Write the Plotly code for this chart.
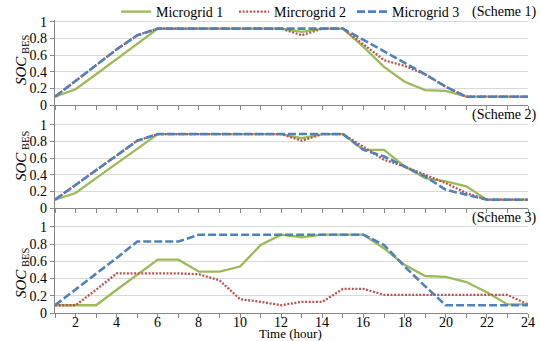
import plotly.graph_objects as go

hours = list(range(1, 25))
x_tick_vals = [h for h in hours if h % 2 == 0]
x_tick_labels = [str(h) for h in x_tick_vals]
y_tick_vals = [0, 0.2, 0.4, 0.6, 0.8, 1]
y_tick_labels = ["0", "0.2", "0.4", "0.6", "0.8", "1"]

series_names = ["Microgrid 1", "Mircrogrid 2", "Microgrid 3"]
scheme_labels = ["(Scheme 1)", "(Scheme 2)", "(Scheme 3)"]

# Scheme 1
mg1_s1 = [0.10, 0.19, 0.37, 0.55, 0.74, 0.92, 0.92, 0.92, 0.92, 0.92, 0.92, 0.92,
          0.88, 0.92, 0.92, 0.70, 0.46, 0.28, 0.18, 0.17, 0.10, 0.10, 0.10, 0.10]
mg2_s1 = [0.10, 0.29, 0.48, 0.67, 0.84, 0.92, 0.92, 0.92, 0.92, 0.92, 0.92, 0.92,
          0.84, 0.92, 0.92, 0.73, 0.54, 0.47, 0.37, 0.22, 0.10, 0.10, 0.10, 0.10]
mg3_s1 = [0.10, 0.29, 0.48, 0.67, 0.84, 0.92, 0.92, 0.92, 0.92, 0.92, 0.92, 0.92,
          0.92, 0.92, 0.92, 0.785, 0.65, 0.51, 0.37, 0.22, 0.10, 0.10, 0.10, 0.10]
# Scheme 2
mg1_s2 = [0.10, 0.18, 0.36, 0.54, 0.72, 0.89, 0.89, 0.89, 0.89, 0.89, 0.89, 0.89,
          0.84, 0.89, 0.89, 0.70, 0.70, 0.50, 0.36, 0.32, 0.26, 0.10, 0.10, 0.10]
mg2_s2 = [0.10, 0.28, 0.46, 0.64, 0.81, 0.89, 0.89, 0.89, 0.89, 0.89, 0.89, 0.89,
          0.81, 0.89, 0.89, 0.74, 0.58, 0.50, 0.40, 0.30, 0.18, 0.10, 0.10, 0.10]
mg3_s2 = [0.10, 0.28, 0.46, 0.64, 0.81, 0.89, 0.89, 0.89, 0.89, 0.89, 0.89, 0.89,
          0.89, 0.89, 0.89, 0.70, 0.62, 0.50, 0.38, 0.22, 0.16, 0.10, 0.10, 0.10]
# Scheme 3
mg1_s3 = [0.09, 0.09, 0.09, 0.27, 0.44, 0.62, 0.62, 0.48, 0.48, 0.54, 0.79, 0.91,
          0.88, 0.91, 0.91, 0.91, 0.75, 0.56, 0.43, 0.42, 0.36, 0.24, 0.10, 0.10]
mg2_s3 = [0.09, 0.09, 0.27, 0.46, 0.46, 0.46, 0.46, 0.45, 0.38, 0.16, 0.13, 0.09,
          0.13, 0.13, 0.28, 0.28, 0.21, 0.21, 0.21, 0.21, 0.21, 0.21, 0.21, 0.10]
mg3_s3 = [0.09, 0.27, 0.45, 0.64, 0.83, 0.83, 0.83, 0.91, 0.91, 0.91, 0.91, 0.91,
          0.91, 0.91, 0.91, 0.91, 0.79, 0.54, 0.31, 0.09, 0.09, 0.09, 0.09, 0.09]

schemes = [(mg1_s1, mg2_s1, mg3_s1), (mg1_s2, mg2_s2, mg3_s2), (mg1_s3, mg2_s3, mg3_s3)]

colors = ["#9BBB59", "#C0504D", "#4F81BD"]
dashes = ["solid", "2px,1.6px", "8px,3px"]
widths = [2.3, 2.3, 2.6]

FONT = "Liberation Serif, Times New Roman, serif"
W, H = 540, 341
ML, MR, MT, MB = 55, 12, 20, 28
PW, PH = W - ML - MR, H - MT - MB

# panel pixel extents (top, bottom) and y range tops
panel_px = [(20, 105), (105, 208), (208, 313)]
y_tops = [1.024, 1.24, 1.22]

def py(p):
    return (H - MB - p) / PH

def px(p):
    return (p - ML) / PW

fig = go.Figure()
for i, data in enumerate(schemes):
    ax = "" if i == 0 else str(i + 1)
    for j, vals in enumerate(data):
        fig.add_trace(go.Scatter(
            x=hours, y=vals, mode="lines", name=series_names[j],
            legendgroup=series_names[j], showlegend=(i == 0),
            line=dict(color=colors[j], width=widths[j], dash=dashes[j]),
            xaxis="x" + ax, yaxis="y" + ax,
        ))

axis_color = "#868686"
for i in range(3):
    ax = "" if i == 0 else str(i + 1)
    top, bot = panel_px[i]
    fig.layout["xaxis" + ax] = dict(
        domain=[0, 1], anchor="y" + ax, range=[1, 24],
        showline=True, linecolor=axis_color, linewidth=1.3,
        ticks="outside", ticklen=4, tickcolor=axis_color, tickwidth=1,
        tickmode="linear", tick0=1, dtick=1,
        showticklabels=False, showgrid=False, zeroline=False,
    )
    fig.layout["yaxis" + ax] = dict(
        domain=[py(bot), py(top)], anchor="x" + ax, range=[0, y_tops[i]],
        showline=True, linecolor=axis_color, linewidth=1.3,
        ticks="outside", ticklen=4, tickcolor=axis_color, tickwidth=1,
        tickvals=y_tick_vals, ticktext=y_tick_labels,
        showgrid=True, gridcolor="#D9D9D9", gridwidth=1, zeroline=False,
        tickfont=dict(family=FONT, size=14, color="#000"),
    )

annotations = []
# x tick labels on the bottom axis, placed at their data positions
for v, lab in zip(x_tick_vals, x_tick_labels):
    annotations.append(dict(
        xref="x3", yref="paper", x=v, y=py(322), text=lab, showarrow=False,
        xanchor="center", yanchor="middle", borderpad=0,
        font=dict(family=FONT, size=14, color="#000"),
    ))
title_centers = [60, 156, 273]
scheme_y = [12, 115, 218]
for i in range(3):
    annotations.append(dict(
        xref="paper", yref="paper", x=px(22), y=py(title_centers[i]),
        text="<i>SOC</i><sub> BES</sub>", textangle=-90, showarrow=False,
        xanchor="center", yanchor="middle",
        font=dict(family=FONT, size=15, color="#000"),
    ))
    annotations.append(dict(
        xref="paper", yref="paper", x=px(538), y=py(scheme_y[i]),
        text=scheme_labels[i], showarrow=False, xanchor="right", yanchor="middle",
        font=dict(family=FONT, size=14, color="#000"),
    ))
annotations.append(dict(
    xref="paper", yref="paper", x=px(290), y=py(333.5),
    text="Time (hour)", showarrow=False, xanchor="center", yanchor="middle",
    borderpad=0, font=dict(family=FONT, size=13, color="#000"),
))

fig.update_layout(
    width=W, height=H,
    margin=dict(l=ML, r=MR, t=MT, b=MB, autoexpand=False),
    paper_bgcolor="white", plot_bgcolor="white",
    font=dict(family=FONT, size=14, color="#000"),
    showlegend=True,
    legend=dict(orientation="h", x=px(116), y=py(12), xanchor="left", yanchor="middle",
                bgcolor="rgba(0,0,0,0)", font=dict(family=FONT, size=14, color="#000"),
                entrywidth=73, entrywidthmode="pixels", itemwidth=30),
    annotations=annotations,
)

fig.write_html("out.html")
